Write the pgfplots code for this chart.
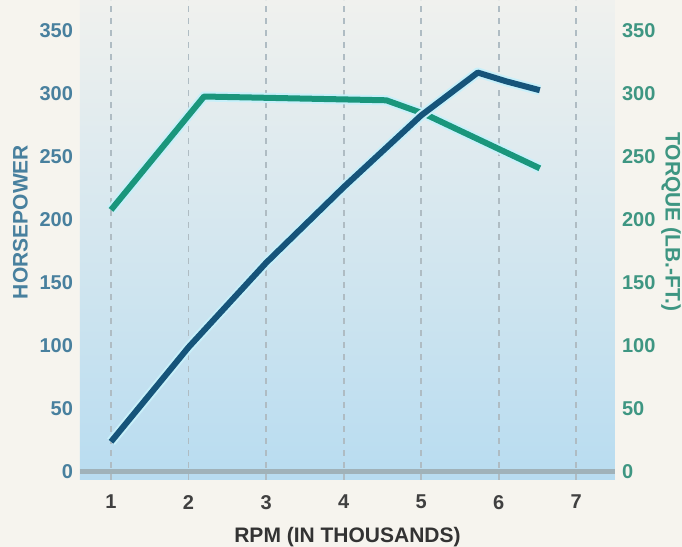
\documentclass[border=0pt]{standalone}
\usepackage{pgfplots}
\usepackage{pgfplotstable}
\pgfplotsset{compat=1.18}
\usepackage{fontspec}
\setmainfont{Liberation Sans}

\definecolor{paper}{RGB}{246,244,238}
\definecolor{bgtop}{RGB}{240,241,238}
\definecolor{bgbot}{RGB}{184,220,240}
\definecolor{hpline}{RGB}{22,84,122}
\definecolor{tqline}{RGB}{26,150,124}
\definecolor{hplab}{RGB}{72,128,158}
\definecolor{tqlab}{RGB}{62,150,130}
\definecolor{gridc}{RGB}{175,188,195}
\definecolor{axisc}{RGB}{160,178,185}
\definecolor{halo}{RGB}{200,240,250}

% horsepower vs rpm (thousands)
\pgfplotstableread{
rpm hp
1    24
2    99
3    166
4    226
5    283
5.73 317
6.1  310
6.53 303
}\hptable

% torque (lb-ft) vs rpm (thousands)
\pgfplotstableread{
rpm tq
1    208
2.2  298
4.55 295
5.05 284
6.53 241
}\tqtable

\begin{document}
\begin{tikzpicture}
\fill[paper] (0,0) rectangle (341pt,273.5pt);
\path[use as bounding box] (0,0) rectangle (341pt,273.5pt);

\pgfplotsset{
  base/.style={
    at={(40pt,33.5pt)}, anchor=south west,
    scale only axis, width=267.5pt, height=240pt,
    xmin=0.6, xmax=7.5, ymin=-6.35, ymax=374.6,
    ytick={0,50,...,350},
    major tick length=0pt,
    axis line style={draw=none},
    /pgf/number format/assume math mode=true,
    tick label style={font=\bfseries\fontsize{10}{10}\selectfont},
    label style={font=\bfseries\fontsize{10.5}{10.5}\selectfont},
  }
}

\begin{axis}[
  base,
  axis y line*=left,
  xtick={1,...,7},
  xmajorgrids,
  grid style={dashed, gridc, line width=0.9pt},
  axis background/.style={top color=bgtop, bottom color=bgbot},
  y tick label style={text=hplab},
  x tick label style={text=black!75, yshift=-4pt},
  xlabel={RPM (IN THOUSANDS)},
  xlabel style={text=black!80, yshift=-2pt},
  ylabel={HORSEPOWER},
  ylabel style={text=hplab, yshift=-1pt, xshift=9pt},
]
\draw[axisc, line width=2.5pt] (axis cs:0.6,0) -- (axis cs:7.5,0);
\addplot[halo, line width=5pt, line join=round] table[x=rpm, y=tq] {\tqtable};
\addplot[tqline, line width=3pt, line join=round] table[x=rpm, y=tq] {\tqtable};
\addplot[halo, line width=5pt, line join=round] table[x=rpm, y=hp] {\hptable};
\addplot[hpline, line width=3pt, line join=round] table[x=rpm, y=hp] {\hptable};
\end{axis}

\begin{axis}[
  base,
  axis y line*=right,
  axis x line=none,
  y tick label style={text=tqlab},
  ylabel={TORQUE (LB.-FT.)},
  ylabel style={text=tqlab, rotate=180, yshift=-4pt, xshift=-9pt},
]
\end{axis}
\end{tikzpicture}
\end{document}
